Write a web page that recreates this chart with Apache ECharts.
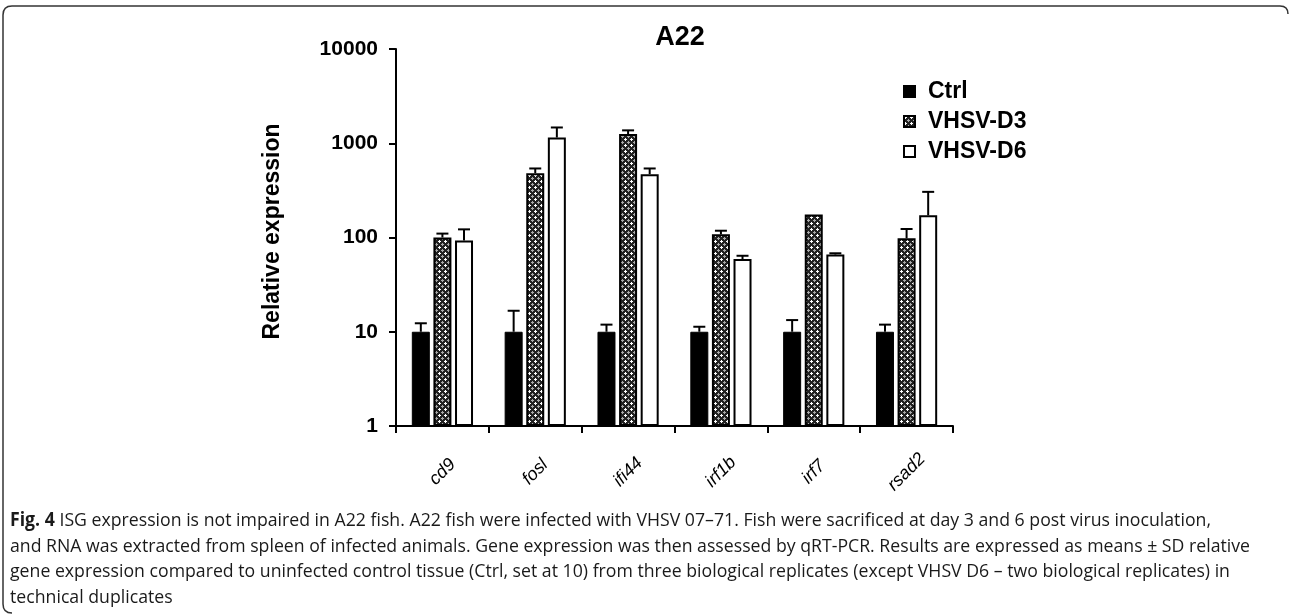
<!DOCTYPE html>
<html>
<head>
<meta charset="utf-8">
<script src="https://cdn.jsdelivr.net/npm/echarts@6/dist/echarts.min.js"></script>
<style>
html,body{margin:0;padding:0;background:#fff;}
#chart{width:1292px;height:616px;}
</style>
</head>
<body>
<div id="chart"></div>
<script>
// ---- data ----
const categories = ['cd9', 'fosl', 'ifi44', 'irf1b', 'irf7', 'rsad2'];
const seriesNames = ['Ctrl', 'VHSV-D3', 'VHSV-D6'];
const ctrlMean = [10, 10, 10, 10, 10, 10];
const ctrlUpper = [12.3, 16.7, 11.9, 11.3, 13.3, 11.9];
const d3Mean = [100, 480, 1250, 108, 175, 98];
const d3Upper = [110, 540, 1370, 118, 175, 123];
const d6Mean = [93, 1150, 470, 59, 66, 172];
const d6Upper = [122, 1470, 540, 64, 68, 305];
const yTicks = [1, 10, 100, 1000, 10000];
const captionBold = 'Fig. 4';
const captionLines = [
  ' ISG expression is not impaired in A22 fish. A22 fish were infected with VHSV 07\u201371. Fish were sacrificed at day 3 and 6 post virus inoculation,',
  'and RNA was extracted from spleen of infected animals. Gene expression was then assessed by qRT-PCR. Results are expressed as means \u00b1 SD relative',
  'gene expression compared to uninfected control tissue (Ctrl, set at 10) from three biological replicates (except VHSV D6 \u2013 two biological replicates) in',
  'technical duplicates'
];

// ---- pattern for D3 ----
function makePattern() {
  const c = document.createElement('canvas');
  c.width = 6; c.height = 6;
  const g = c.getContext('2d');
  g.fillStyle = '#222222'; g.fillRect(0, 0, 6, 6);
  g.fillStyle = '#ffffff';
  [[1,0],[0,1],[1,1],[2,1],[1,2]].forEach(p => g.fillRect(p[0], p[1], 1, 1));
  g.fillStyle = '#aaaaaa';
  [[4,3],[3,4],[4,4],[5,4],[4,5]].forEach(p => g.fillRect(p[0], p[1], 1, 1));
  return c;
}
const pattern = {image: makePattern(), repeat: 'repeat'};

const FONT = '"Liberation Sans", Arial, sans-serif';
const BAR_W = 18;
const STEP = 21.6;
const offsets = [-STEP, 0, STEP];

function errSeries(idx, means, uppers) {
  return {
    type: 'custom',
    name: seriesNames[idx] + ' SD',
    z: 1,
    silent: true,
    renderItem: function (params, api) {
      const ci = api.value(0);
      const base = api.coord([ci, api.value(1)]);
      const top = api.coord([ci, api.value(2)]);
      const x = base[0] + offsets[idx];
      if (top[1] >= base[1] - 0.5) return null;
      return {
        type: 'group',
        children: [
          {type: 'line', shape: {x1: x, y1: base[1], x2: x, y2: top[1]}, style: {stroke: '#000', lineWidth: 2}},
          {type: 'line', shape: {x1: x - 6, y1: top[1], x2: x + 6, y2: top[1]}, style: {stroke: '#000', lineWidth: 2}}
        ]
      };
    },
    data: means.map((m, i) => [i, m, uppers[i]])
  };
}

const chart = echarts.init(document.getElementById('chart'), null, {renderer: 'canvas'});

// caption sizing
const CAP_FONT_SIZE = 19;
const CAP_FAMILY = '"Open Sans", sans-serif';
const mc = document.createElement('canvas').getContext('2d');
mc.font = 'bold ' + CAP_FONT_SIZE + 'px ' + CAP_FAMILY;
const wBold = mc.measureText(captionBold).width;
mc.font = CAP_FONT_SIZE + 'px ' + CAP_FAMILY;
const lineWidths = captionLines.map((l, i) => mc.measureText(l).width + (i === 0 ? wBold : 0));
const CAP_X = 10, CAP_END = 1250;
const sx = (CAP_END - CAP_X) / Math.max.apply(null, lineWidths);
const capY = [521, 547, 572, 598];

const borderStyle = {stroke: '#333', lineWidth: 1.5, fill: null};
const graphics = [
  {type: 'text', x: 680, y: 38, style: {text: 'A22', font: 'bold 27px ' + FONT, fill: '#000', textAlign: 'center', textVerticalAlign: 'middle'}},
  {type: 'polyline', shape: {points: [[1280, 6], [12, 6]]}, style: borderStyle},
  {type: 'polyline', shape: {points: [[3, 15], [3, 604]]}, style: borderStyle},
  {type: 'bezierCurve', shape: {x1: 1280, y1: 6, cpx1: 1288, cpy1: 6, x2: 1288, y2: 14}, style: borderStyle},
  {type: 'bezierCurve', shape: {x1: 12, y1: 6, cpx1: 3, cpy1: 6, x2: 3, y2: 15}, style: borderStyle},
  {type: 'bezierCurve', shape: {x1: 3, y1: 604, cpx1: 3, cpy1: 613, x2: 12, y2: 613}, style: borderStyle}
];
captionLines.forEach((line, i) => {
  if (i === 0) {
    graphics.push({type: 'text', x: CAP_X, y: capY[i], scaleX: sx,
      style: {text: '{b|' + captionBold + '}{n|' + line + '}', textVerticalAlign: 'middle',
        rich: {b: {fontFamily: CAP_FAMILY, fontWeight: 'bold', fontSize: CAP_FONT_SIZE, fill: '#1a1a1a'},
               n: {fontFamily: CAP_FAMILY, fontSize: CAP_FONT_SIZE, fill: '#1a1a1a'}}}});
  } else {
    graphics.push({type: 'text', x: CAP_X, y: capY[i], scaleX: sx,
      style: {text: line, font: CAP_FONT_SIZE + 'px ' + CAP_FAMILY, fill: '#1a1a1a', textVerticalAlign: 'middle'}});
  }
});

const option = {
  animation: false,
  backgroundColor: '#fff',
  graphic: graphics,
  legend: {
    orient: 'vertical',
    left: 898,
    top: 75,
    icon: 'rect',
    itemWidth: 11,
    itemHeight: 11,
    itemGap: 7,
    data: seriesNames,
    textStyle: {fontFamily: FONT, fontWeight: 'bold', fontSize: 23, color: '#000', lineHeight: 23, padding: [0, 0, 0, 8]}
  },
  grid: {left: 396, right: 339, top: 49, bottom: 190, containLabel: false},
  xAxis: {
    type: 'category',
    data: categories,
    axisLine: {lineStyle: {color: '#000', width: 2}},
    axisTick: {show: true, length: 7, lineStyle: {color: '#000', width: 2}},
    axisLabel: {rotate: 45, align: 'center', verticalAlign: 'middle', margin: 46, fontFamily: FONT, fontStyle: 'italic', fontSize: 18, color: '#000'},
    splitLine: {show: false}
  },
  yAxis: {
    type: 'log',
    logBase: 10,
    min: yTicks[0],
    max: yTicks[yTicks.length - 1],
    name: 'Relative expression',
    nameLocation: 'middle',
    nameGap: 112,
    nameRotate: 90,
    nameTextStyle: {fontFamily: FONT, fontWeight: 'bold', fontSize: 23, color: '#000', padding: [0, 0, 0, 12]},
    axisLine: {show: true, lineStyle: {color: '#000', width: 2}},
    axisTick: {show: true, length: 7, lineStyle: {color: '#000', width: 2}},
    minorTick: {show: false},
    axisLabel: {fontFamily: FONT, fontWeight: 'bold', fontSize: 21, color: '#000', margin: 18,
      formatter: v => String(Math.round(v))},
    splitLine: {show: false}
  },
  series: [
    {name: seriesNames[0], type: 'bar', barWidth: BAR_W, barGap: '20%', z: 2,
     itemStyle: {color: '#000', borderColor: '#000', borderWidth: 1}, data: ctrlMean},
    {name: seriesNames[1], type: 'bar', barWidth: BAR_W, barGap: '20%', z: 2,
     itemStyle: {color: pattern, borderColor: '#000', borderWidth: 2}, data: d3Mean},
    {name: seriesNames[2], type: 'bar', barWidth: BAR_W, barGap: '20%', z: 2,
     itemStyle: {color: '#fff', borderColor: '#000', borderWidth: 2}, data: d6Mean},
    errSeries(0, ctrlMean, ctrlUpper),
    errSeries(1, d3Mean, d3Upper),
    errSeries(2, d6Mean, d6Upper)
  ]
};
chart.setOption(option);
</script>
</body>
</html>
